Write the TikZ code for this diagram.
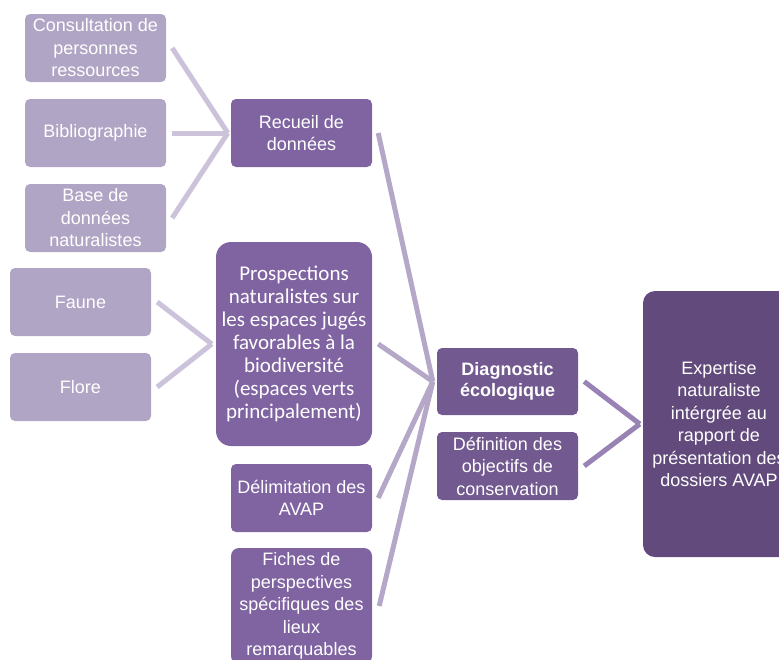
\documentclass[tikz,border=0pt]{standalone}
\usepackage{fontspec}
\setmainfont{Liberation Sans}
\newfontfamily\calibrifont{Carlito}
\usepackage{tikz}
\usetikzlibrary{positioning}

\definecolor{lilaclight}{HTML}{B1A5C5}
\definecolor{lilac}{HTML}{8064A2}
\definecolor{lilacdark}{HTML}{72598F}
\definecolor{lilacdeep}{HTML}{624B7C}
\definecolor{linklight}{HTML}{CCC3DA}
\definecolor{linkmid}{HTML}{B4A7C8}
\definecolor{linkdark}{HTML}{9983B5}

\begin{document}
\begin{tikzpicture}[x=1pt, y=-1pt,
    box/.style={rounded corners=5pt, text=white, align=center, inner sep=0pt,
        font=\fontsize{18}{22.5}\selectfont, minimum width=141pt, minimum height=68pt},
    source/.style={box, fill=lilaclight},
    stage/.style={box, fill=lilac},
    result/.style={box, fill=lilacdark},
    final/.style={box, fill=lilacdeep, rounded corners=12pt},
    link/.style={line width=5pt},
    link 1/.style={link, draw=linklight},
    link 2/.style={link, draw=linkmid},
    link 3/.style={link, draw=linkdark}]
    \useasboundingbox (0,0) rectangle (779,659);

    \node[source] (cons) at (95.5,48) {Consultation de\\personnes\\ressources};
    \node[source] (biblio) at (95.5,133) {Bibliographie};
    \node[source] (base) at (95.5,218) {Base de\\données\\naturalistes};
    \node[source] (faune) at (80.5,302) {Faune};
    \node[source] (flore) at (80.5,387) {Flore};

    \node[stage] (recueil) at (301.5,133) {Recueil de\\données};
    \node[stage, minimum width=156pt, minimum height=204pt, rounded corners=15pt,
        font=\calibrifont\fontsize{21}{23}\selectfont] (prosp) at (294,344)
        {Prospections\\naturalistes sur\\les espaces jugés\\favorables à la\\biodiversité\\(espaces verts\\principalement)};
    \node[stage] (delim) at (301.5,498) {Délimitation des\\AVAP};
    \node[stage, minimum height=116pt, rounded corners=8pt] (fiches) at (301.5,606)
        {Fiches de\\perspectives\\spécifiques des\\lieux\\remarquables};

    \node[result, minimum height=67pt, font=\bfseries\fontsize{18}{21}\selectfont] (diag) at (507.5,381.5)
        {Diagnostic\\écologique};
    \node[result] (defin) at (507.5,466) {Définition des\\objectifs de\\conservation};

    \node[final, minimum width=152pt, minimum height=266pt] (expert) at (719,424)
        {Expertise\\naturaliste\\intérgrée au\\rapport de\\présentation des\\dossiers AVAP};

    \draw[link 1] ([xshift=6pt]cons.east) -- ([xshift=-3pt]recueil.west);
    \draw[link 1] ([xshift=6pt]biblio.east) -- ([xshift=-3pt]recueil.west);
    \draw[link 1] ([xshift=6pt]base.east) -- ([xshift=-3pt]recueil.west);
    \draw[link 1] ([xshift=6pt]faune.east) -- ([xshift=-4pt]prosp.west);
    \draw[link 1] ([xshift=6pt]flore.east) -- ([xshift=-4pt]prosp.west);

    \draw[link 2] ([xshift=6pt]recueil.east) -- ([xshift=-4pt]diag.west);
    \draw[link 2] ([xshift=6pt]prosp.east) -- ([xshift=-4pt]diag.west);
    \draw[link 2] ([xshift=6pt]delim.east) -- ([xshift=-4pt]diag.west);
    \draw[link 2] ([xshift=7pt]fiches.east) -- ([xshift=-4pt]diag.west);

    \draw[link 3] ([xshift=6pt]diag.east) -- ([xshift=-3pt]expert.west);
    \draw[link 3] ([xshift=6pt]defin.east) -- ([xshift=-3pt]expert.west);
\end{tikzpicture}
\end{document}
